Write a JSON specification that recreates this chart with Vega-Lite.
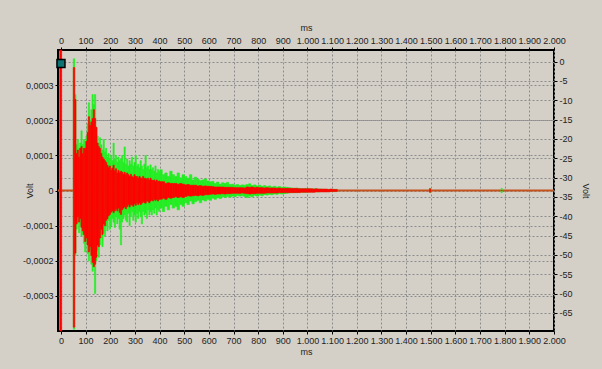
{
  "$schema": "https://vega.github.io/schema/vega-lite/v6.json",
  "width": 496,
  "height": 281,
  "autosize": {"type": "none"},
  "padding": {"left": 58, "top": 50, "right": 48, "bottom": 38},
  "background": "#d4d0c8",
  "config": {
    "view": {"stroke": "#000000", "strokeWidth": 2, "fill": "#d4d0c8"},
    "axis": {
      "labelFont": "Liberation Sans", "labelFontSize": 9, "labelColor": "#222222",
      "titleFont": "Liberation Sans", "titleFontSize": 9, "titleFontWeight": "normal", "titleColor": "#222222",
      "tickColor": "#000000", "tickSize": 3, "labelPadding": 2, "domain": false,
      "gridColor": "#8c8c8c", "gridDash": [2, 2], "gridOpacity": 1, "gridWidth": 1, "labelFlush": false, "labelOverlap": false
    }
  },
  "datasets": {
    "sig": [
      {"t":-5,"t2":3,"gl":0,"gh":0,"rl":-4e-4,"rh":4e-4},
      {"t":50,"t2":56,"gl":-3.95e-4,"gh":3.75e-4,"rl":-3.89e-4,"rh":3.5e-4},
      {"t":56,"t2":61,"gl":-1.85e-4,"gh":2.73e-4,"rl":-1.78e-4,"rh":2.59e-4},
      {"t":61,"t2":66,"gl":-1.1e-4,"gh":1.3e-4,"rl":-0.95e-4,"rh":1.05e-4},
      {"t":66,"t2":71,"gl":-0.9e-4,"gh":1.45e-4,"rl":-0.75e-4,"rh":1.15e-4},
      {"t":71,"t2":76,"gl":-1.2e-4,"gh":1.2e-4,"rl":-0.9e-4,"rh":0.95e-4},
      {"t":76,"t2":81,"gl":-1.0e-4,"gh":1.35e-4,"rl":-0.8e-4,"rh":1.2e-4},
      {"t":81,"t2":86,"gl":-1.3e-4,"gh":1.7e-4,"rl":-1.05e-4,"rh":1.25e-4},
      {"t":86,"t2":91,"gl":-1.25e-4,"gh":1.3e-4,"rl":-1.15e-4,"rh":1.05e-4},
      {"t":91,"t2":96,"gl":-1.5e-4,"gh":1.45e-4,"rl":-1.25e-4,"rh":1.2e-4},
      {"t":96,"t2":101,"gl":-1.75e-4,"gh":1.4e-4,"rl":-1.45e-4,"rh":1.2e-4},
      {"t":101,"t2":106,"gl":-1.45e-4,"gh":1.55e-4,"rl":-1.35e-4,"rh":1.4e-4},
      {"t":106,"t2":111,"gl":-1.8e-4,"gh":1.9e-4,"rl":-1.55e-4,"rh":1.65e-4},
      {"t":111,"t2":116,"gl":-2.0e-4,"gh":2.5e-4,"rl":-1.75e-4,"rh":2.1e-4},
      {"t":116,"t2":121,"gl":-1.7e-4,"gh":2.0e-4,"rl":-1.6e-4,"rh":1.85e-4},
      {"t":121,"t2":126,"gl":-2.1e-4,"gh":2.3e-4,"rl":-1.85e-4,"rh":1.95e-4},
      {"t":126,"t2":131,"gl":-2.3e-4,"gh":2.73e-4,"rl":-2.05e-4,"rh":2.05e-4},
      {"t":131,"t2":136,"gl":-2.1e-4,"gh":2.45e-4,"rl":-2.17e-4,"rh":2.3e-4},
      {"t":136,"t2":141,"gl":-2.93e-4,"gh":2.73e-4,"rl":-2.1e-4,"rh":2.05e-4},
      {"t":141,"t2":146,"gl":-2.0e-4,"gh":1.8e-4,"rl":-1.9e-4,"rh":1.8e-4},
      {"t":146,"t2":151,"gl":-1.7e-4,"gh":1.55e-4,"rl":-1.55e-4,"rh":1.35e-4},
      {"t":151,"t2":156,"gl":-1.9e-4,"gh":1.35e-4,"rl":-1.6e-4,"rh":1.25e-4},
      {"t":156,"t2":161,"gl":-1.55e-4,"gh":1.5e-4,"rl":-1.35e-4,"rh":1.2e-4},
      {"t":161,"t2":166,"gl":-1.35e-4,"gh":1.3e-4,"rl":-1.1e-4,"rh":1.05e-4},
      {"t":166,"t2":171,"gl":-1.6e-4,"gh":1.15e-4,"rl":-1.25e-4,"rh":0.95e-4},
      {"t":171,"t2":176,"gl":-1.2e-4,"gh":1.45e-4,"rl":-0.95e-4,"rh":0.9e-4},
      {"t":176,"t2":181,"gl":-1.3e-4,"gh":1.1e-4,"rl":-1.0e-4,"rh":0.85e-4},
      {"t":181,"t2":186,"gl":-1.0e-4,"gh":1.2e-4,"rl":-0.85e-4,"rh":0.8e-4},
      {"t":186,"t2":191,"gl":-1.15e-4,"gh":0.95e-4,"rl":-0.8e-4,"rh":0.72e-4},
      {"t":191,"t2":196,"gl":-0.85e-4,"gh":1.05e-4,"rl":-0.72e-4,"rh":0.65e-4},
      {"t":196,"t2":201,"gl":-1.1e-4,"gh":0.9e-4,"rl":-0.68e-4,"rh":0.7e-4},
      {"t":201,"t2":206,"gl":-1.0e-4,"gh":1.0e-4,"rl":-0.62e-4,"rh":0.58e-4},
      {"t":206,"t2":211,"gl":-0.8e-4,"gh":0.85e-4,"rl":-0.58e-4,"rh":0.64e-4},
      {"t":211,"t2":216,"gl":-0.9e-4,"gh":1.35e-4,"rl":-0.63e-4,"rh":0.72e-4},
      {"t":216,"t2":221,"gl":-1.05e-4,"gh":0.9e-4,"rl":-0.58e-4,"rh":0.56e-4},
      {"t":221,"t2":226,"gl":-0.75e-4,"gh":1.0e-4,"rl":-0.52e-4,"rh":0.62e-4},
      {"t":226,"t2":231,"gl":-0.95e-4,"gh":0.8e-4,"rl":-0.58e-4,"rh":0.5e-4},
      {"t":231,"t2":236,"gl":-0.8e-4,"gh":0.95e-4,"rl":-0.5e-4,"rh":0.57e-4},
      {"t":236,"t2":241,"gl":-1.1e-4,"gh":0.85e-4,"rl":-0.62e-4,"rh":0.5e-4},
      {"t":241,"t2":246,"gl":-1.55e-4,"gh":0.9e-4,"rl":-0.68e-4,"rh":0.55e-4},
      {"t":246,"t2":251,"gl":-0.9e-4,"gh":1.0e-4,"rl":-0.55e-4,"rh":0.52e-4},
      {"t":251,"t2":256,"gl":-0.8e-4,"gh":0.8e-4,"rl":-0.5e-4,"rh":0.46e-4},
      {"t":256,"t2":261,"gl":-0.7e-4,"gh":1.24e-4,"rl":-0.46e-4,"rh":0.52e-4},
      {"t":261,"t2":266,"gl":-0.85e-4,"gh":0.75e-4,"rl":-0.52e-4,"rh":0.45e-4},
      {"t":266,"t2":271,"gl":-0.9e-4,"gh":0.9e-4,"rl":-0.46e-4,"rh":0.5e-4},
      {"t":271,"t2":276,"gl":-0.65e-4,"gh":0.7e-4,"rl":-0.4e-4,"rh":0.45e-4},
      {"t":276,"t2":281,"gl":-1.0e-4,"gh":0.85e-4,"rl":-0.47e-4,"rh":0.4e-4},
      {"t":281,"t2":286,"gl":-0.75e-4,"gh":0.75e-4,"rl":-0.4e-4,"rh":0.46e-4},
      {"t":286,"t2":291,"gl":-0.6e-4,"gh":0.95e-4,"rl":-0.42e-4,"rh":0.4e-4},
      {"t":291,"t2":296,"gl":-0.85e-4,"gh":0.7e-4,"rl":-0.45e-4,"rh":0.38e-4},
      {"t":296,"t2":301,"gl":-0.7e-4,"gh":0.8e-4,"rl":-0.38e-4,"rh":0.45e-4},
      {"t":301,"t2":306,"gl":-0.9e-4,"gh":1.0e-4,"rl":-0.42e-4,"rh":0.4e-4},
      {"t":306,"t2":311,"gl":-0.65e-4,"gh":0.7e-4,"rl":-0.35e-4,"rh":0.4e-4},
      {"t":311,"t2":316,"gl":-0.8e-4,"gh":0.75e-4,"rl":-0.4e-4,"rh":0.35e-4},
      {"t":316,"t2":321,"gl":-0.6e-4,"gh":0.65e-4,"rl":-0.35e-4,"rh":0.4e-4},
      {"t":321,"t2":326,"gl":-0.75e-4,"gh":0.85e-4,"rl":-0.4e-4,"rh":0.36e-4},
      {"t":326,"t2":331,"gl":-0.95e-4,"gh":0.7e-4,"rl":-0.36e-4,"rh":0.34e-4},
      {"t":331,"t2":336,"gl":-0.6e-4,"gh":0.6e-4,"rl":-0.31e-4,"rh":0.4e-4},
      {"t":336,"t2":341,"gl":-0.7e-4,"gh":0.75e-4,"rl":-0.35e-4,"rh":0.34e-4},
      {"t":341,"t2":346,"gl":-0.65e-4,"gh":1.0e-4,"rl":-0.36e-4,"rh":0.35e-4},
      {"t":346,"t2":351,"gl":-0.8e-4,"gh":0.65e-4,"rl":-0.3e-4,"rh":0.31e-4},
      {"t":351,"t2":356,"gl":-0.55e-4,"gh":0.7e-4,"rl":-0.31e-4,"rh":0.35e-4},
      {"t":356,"t2":361,"gl":-0.7e-4,"gh":0.6e-4,"rl":-0.35e-4,"rh":0.3e-4},
      {"t":361,"t2":366,"gl":-0.6e-4,"gh":0.73e-4,"rl":-0.3e-4,"rh":0.35e-4},
      {"t":366,"t2":371,"gl":-0.7e-4,"gh":0.6e-4,"rl":-0.27e-4,"rh":0.3e-4},
      {"t":371,"t2":376,"gl":-0.55e-4,"gh":0.65e-4,"rl":-0.3e-4,"rh":0.28e-4},
      {"t":376,"t2":381,"gl":-0.65e-4,"gh":0.55e-4,"rl":-0.25e-4,"rh":0.3e-4},
      {"t":381,"t2":386,"gl":-0.5e-4,"gh":0.7e-4,"rl":-0.28e-4,"rh":0.25e-4},
      {"t":386,"t2":391,"gl":-0.7e-4,"gh":0.5e-4,"rl":-0.25e-4,"rh":0.3e-4},
      {"t":391,"t2":396,"gl":-0.55e-4,"gh":0.6e-4,"rl":-0.3e-4,"rh":0.25e-4},
      {"t":396,"t2":401,"gl":-0.6e-4,"gh":0.55e-4,"rl":-0.25e-4,"rh":0.27e-4},
      {"t":401,"t2":411,"gl":-0.5e-4,"gh":0.59e-4,"rl":-0.25e-4,"rh":0.25e-4},
      {"t":411,"t2":421,"gl":-0.6e-4,"gh":0.45e-4,"rl":-0.22e-4,"rh":0.25e-4},
      {"t":421,"t2":431,"gl":-0.45e-4,"gh":0.5e-4,"rl":-0.25e-4,"rh":0.2e-4},
      {"t":431,"t2":441,"gl":-0.55e-4,"gh":0.4e-4,"rl":-0.2e-4,"rh":0.22e-4},
      {"t":441,"t2":451,"gl":-0.4e-4,"gh":0.55e-4,"rl":-0.22e-4,"rh":0.2e-4},
      {"t":451,"t2":461,"gl":-0.5e-4,"gh":0.45e-4,"rl":-0.2e-4,"rh":0.2e-4},
      {"t":461,"t2":471,"gl":-0.45e-4,"gh":0.4e-4,"rl":-0.18e-4,"rh":0.2e-4},
      {"t":471,"t2":481,"gl":-0.55e-4,"gh":0.5e-4,"rl":-0.2e-4,"rh":0.18e-4},
      {"t":481,"t2":491,"gl":-0.4e-4,"gh":0.36e-4,"rl":-0.18e-4,"rh":0.2e-4},
      {"t":491,"t2":501,"gl":-0.45e-4,"gh":0.45e-4,"rl":-0.2e-4,"rh":0.18e-4},
      {"t":501,"t2":511,"gl":-0.35e-4,"gh":0.4e-4,"rl":-0.17e-4,"rh":0.16e-4},
      {"t":511,"t2":521,"gl":-0.4e-4,"gh":0.35e-4,"rl":-0.15e-4,"rh":0.17e-4},
      {"t":521,"t2":531,"gl":-0.3e-4,"gh":0.45e-4,"rl":-0.16e-4,"rh":0.15e-4},
      {"t":531,"t2":541,"gl":-0.38e-4,"gh":0.3e-4,"rl":-0.15e-4,"rh":0.15e-4},
      {"t":541,"t2":551,"gl":-0.32e-4,"gh":0.38e-4,"rl":-0.14e-4,"rh":0.15e-4},
      {"t":551,"t2":561,"gl":-0.28e-4,"gh":0.32e-4,"rl":-0.15e-4,"rh":0.13e-4},
      {"t":561,"t2":571,"gl":-0.35e-4,"gh":0.28e-4,"rl":-0.13e-4,"rh":0.14e-4},
      {"t":571,"t2":581,"gl":-0.27e-4,"gh":0.3e-4,"rl":-0.14e-4,"rh":0.12e-4},
      {"t":581,"t2":591,"gl":-0.3e-4,"gh":0.33e-4,"rl":-0.12e-4,"rh":0.13e-4},
      {"t":591,"t2":601,"gl":-0.25e-4,"gh":0.27e-4,"rl":-0.12e-4,"rh":0.12e-4},
      {"t":601,"t2":611,"gl":-0.28e-4,"gh":0.25e-4,"rl":-0.11e-4,"rh":0.12e-4},
      {"t":611,"t2":621,"gl":-0.22e-4,"gh":0.26e-4,"rl":-0.1e-4,"rh":0.11e-4},
      {"t":621,"t2":631,"gl":-0.25e-4,"gh":0.2e-4,"rl":-0.11e-4,"rh":0.1e-4},
      {"t":631,"t2":641,"gl":-0.2e-4,"gh":0.24e-4,"rl":-0.1e-4,"rh":0.1e-4},
      {"t":641,"t2":651,"gl":-0.23e-4,"gh":0.18e-4,"rl":-0.1e-4,"rh":0.1e-4},
      {"t":651,"t2":661,"gl":-0.18e-4,"gh":0.22e-4,"rl":-0.09e-4,"rh":0.1e-4},
      {"t":661,"t2":671,"gl":-0.2e-4,"gh":0.2e-4,"rl":-0.1e-4,"rh":0.09e-4},
      {"t":671,"t2":681,"gl":-0.17e-4,"gh":0.23e-4,"rl":-0.09e-4,"rh":0.09e-4},
      {"t":681,"t2":691,"gl":-0.19e-4,"gh":0.17e-4,"rl":-0.09e-4,"rh":0.09e-4},
      {"t":691,"t2":701,"gl":-0.16e-4,"gh":0.18e-4,"rl":-0.08e-4,"rh":0.09e-4},
      {"t":701,"t2":711,"gl":-0.18e-4,"gh":0.15e-4,"rl":-0.08e-4,"rh":0.08e-4},
      {"t":711,"t2":721,"gl":-0.14e-4,"gh":0.17e-4,"rl":-0.08e-4,"rh":0.08e-4},
      {"t":721,"t2":731,"gl":-0.16e-4,"gh":0.14e-4,"rl":-0.08e-4,"rh":0.08e-4},
      {"t":731,"t2":741,"gl":-0.15e-4,"gh":0.16e-4,"rl":-0.07e-4,"rh":0.08e-4},
      {"t":741,"t2":751,"gl":-0.17e-4,"gh":0.15e-4,"rl":-0.08e-4,"rh":0.07e-4},
      {"t":751,"t2":761,"gl":-0.2e-4,"gh":0.17e-4,"rl":-0.09e-4,"rh":0.1e-4},
      {"t":761,"t2":771,"gl":-0.16e-4,"gh":0.19e-4,"rl":-0.1e-4,"rh":0.09e-4},
      {"t":771,"t2":781,"gl":-0.18e-4,"gh":0.14e-4,"rl":-0.09e-4,"rh":0.1e-4},
      {"t":781,"t2":791,"gl":-0.14e-4,"gh":0.16e-4,"rl":-0.09e-4,"rh":0.08e-4},
      {"t":791,"t2":801,"gl":-0.16e-4,"gh":0.13e-4,"rl":-0.08e-4,"rh":0.09e-4},
      {"t":801,"t2":811,"gl":-0.13e-4,"gh":0.15e-4,"rl":-0.08e-4,"rh":0.08e-4},
      {"t":811,"t2":821,"gl":-0.15e-4,"gh":0.12e-4,"rl":-0.08e-4,"rh":0.08e-4},
      {"t":821,"t2":831,"gl":-0.12e-4,"gh":0.14e-4,"rl":-0.08e-4,"rh":0.07e-4},
      {"t":831,"t2":841,"gl":-0.13e-4,"gh":0.11e-4,"rl":-0.07e-4,"rh":0.08e-4},
      {"t":841,"t2":851,"gl":-0.11e-4,"gh":0.13e-4,"rl":-0.07e-4,"rh":0.07e-4},
      {"t":851,"t2":861,"gl":-0.12e-4,"gh":0.1e-4,"rl":-0.07e-4,"rh":0.07e-4},
      {"t":861,"t2":871,"gl":-0.1e-4,"gh":0.12e-4,"rl":-0.07e-4,"rh":0.07e-4},
      {"t":871,"t2":881,"gl":-0.11e-4,"gh":0.1e-4,"rl":-0.07e-4,"rh":0.06e-4},
      {"t":881,"t2":891,"gl":-0.09e-4,"gh":0.11e-4,"rl":-0.06e-4,"rh":0.07e-4},
      {"t":891,"t2":901,"gl":-0.1e-4,"gh":0.09e-4,"rl":-0.06e-4,"rh":0.06e-4},
      {"t":901,"t2":911,"gl":-0.09e-4,"gh":0.1e-4,"rl":-0.06e-4,"rh":0.06e-4},
      {"t":911,"t2":921,"gl":-0.08e-4,"gh":0.09e-4,"rl":-0.06e-4,"rh":0.06e-4},
      {"t":921,"t2":931,"gl":-0.07e-4,"gh":0.08e-4,"rl":-0.06e-4,"rh":0.06e-4},
      {"t":931,"t2":941,"gl":-0.06e-4,"gh":0.07e-4,"rl":-0.06e-4,"rh":0.06e-4},
      {"t":941,"t2":951,"gl":-0.06e-4,"gh":0.06e-4,"rl":-0.06e-4,"rh":0.06e-4},
      {"t":951,"t2":961,"gl":-0.06e-4,"gh":0.07e-4,"rl":-0.06e-4,"rh":0.06e-4},
      {"t":961,"t2":971,"gl":-0.05e-4,"gh":0.06e-4,"rl":-0.06e-4,"rh":0.05e-4},
      {"t":971,"t2":981,"gl":-0.05e-4,"gh":0.05e-4,"rl":-0.05e-4,"rh":0.05e-4},
      {"t":981,"t2":991,"gl":-0.05e-4,"gh":0.05e-4,"rl":-0.05e-4,"rh":0.05e-4},
      {"t":991,"t2":1001,"gl":-0.05e-4,"gh":0.06e-4,"rl":-0.05e-4,"rh":0.05e-4},
      {"t":1001,"t2":1011,"gl":-0.04e-4,"gh":0.05e-4,"rl":-0.05e-4,"rh":0.05e-4},
      {"t":1011,"t2":1021,"gl":-0.04e-4,"gh":0.04e-4,"rl":-0.05e-4,"rh":0.05e-4},
      {"t":1021,"t2":1031,"gl":-0.04e-4,"gh":0.05e-4,"rl":-0.05e-4,"rh":0.04e-4},
      {"t":1031,"t2":1041,"gl":-0.04e-4,"gh":0.04e-4,"rl":-0.04e-4,"rh":0.05e-4},
      {"t":1041,"t2":1051,"gl":-0.04e-4,"gh":0.04e-4,"rl":-0.04e-4,"rh":0.04e-4},
      {"t":1051,"t2":1061,"gl":-0.03e-4,"gh":0.04e-4,"rl":-0.04e-4,"rh":0.04e-4},
      {"t":1061,"t2":1071,"gl":-0.03e-4,"gh":0.03e-4,"rl":-0.04e-4,"rh":0.04e-4},
      {"t":1071,"t2":1081,"gl":-0.03e-4,"gh":0.03e-4,"rl":-0.04e-4,"rh":0.04e-4},
      {"t":1081,"t2":1091,"gl":-0.03e-4,"gh":0.03e-4,"rl":-0.04e-4,"rh":0.03e-4},
      {"t":1091,"t2":1101,"gl":-0.03e-4,"gh":0.03e-4,"rl":-0.03e-4,"rh":0.04e-4},
      {"t":1101,"t2":1121,"gl":-0.03e-4,"gh":0.03e-4,"rl":-0.03e-4,"rh":0.03e-4},
      {"t":1495,"t2":1500,"gl":-0.06e-4,"gh":0.06e-4,"rl":-0.05e-4,"rh":0.05e-4},
      {"t":1785,"t2":1790,"gl":-0.06e-4,"gh":0.06e-4,"rl":0,"rh":0}
    ]
  },
  "layer": [
    {
      "layer": [
        {
          "data": {"values": [{}]},
          "mark": {"type": "rule", "color": "#c4521c", "strokeWidth": 2},
          "encoding": {
            "y": {"datum": 0, "type": "quantitative",
              "scale": {"domain": [-0.0004, 0.0004], "nice": false, "zero": false},
              "axis": {"orient": "left", "title": "Volt", "values": [-0.0003, -0.0002, -0.0001, 0, 0.0001, 0.0002, 0.0003],
                "labelExpr": "datum.value == 0 ? '0' : (datum.value < 0 ? '-' : '') + '0,000' + round(abs(datum.value) * 10000)",
                "grid": true, "titleAngle": -90, "titleX": -29, "titleY": 140.5, "titleAlign": "center", "titleBaseline": "middle"}}
          }
        },
        {
          "data": {"name": "sig"},
          "mark": {"type": "bar", "color": "#22ee22", "stroke": "#22ee22", "strokeWidth": 0.6},
          "encoding": {
            "x": {"field": "t", "type": "quantitative",
              "scale": {"domain": [-12, 2000], "nice": false, "zero": false},
              "axis": {"orient": "bottom", "title": "ms", "values": [0,100,200,300,400,500,600,700,800,900,1000,1100,1200,1300,1400,1500,1600,1700,1800,1900,2000],
                "labelExpr": "datum.value < 1000 ? '' + datum.value : floor(datum.value / 1000) + '.' + (datum.value % 1000 == 0 ? '000' : '' + (datum.value % 1000))",
                "grid": true, "titlePadding": 2}},
            "x2": {"field": "t2"},
            "y": {"field": "gl", "type": "quantitative",
              "scale": {"domain": [-0.0004, 0.0004], "nice": false, "zero": false},
              "axis": {"orient": "left", "title": "Volt", "values": [-0.0003, -0.0002, -0.0001, 0, 0.0001, 0.0002, 0.0003],
                "labelExpr": "datum.value == 0 ? '0' : (datum.value < 0 ? '-' : '') + '0,000' + round(abs(datum.value) * 10000)",
                "grid": true, "titleAngle": -90, "titleX": -29, "titleY": 140.5, "titleAlign": "center", "titleBaseline": "middle"}},
            "y2": {"field": "gh"}
          }
        },
        {
          "data": {"name": "sig"},
          "mark": {"type": "bar", "color": "#ff0000", "stroke": "#ff0000", "strokeWidth": 0.6},
          "encoding": {
            "x": {"field": "t", "type": "quantitative",
              "scale": {"domain": [-12, 2000], "nice": false, "zero": false},
              "axis": {"orient": "bottom", "title": "ms", "values": [0,100,200,300,400,500,600,700,800,900,1000,1100,1200,1300,1400,1500,1600,1700,1800,1900,2000],
                "labelExpr": "datum.value < 1000 ? '' + datum.value : floor(datum.value / 1000) + '.' + (datum.value % 1000 == 0 ? '000' : '' + (datum.value % 1000))",
                "grid": true, "titlePadding": 2}},
            "x2": {"field": "t2"},
            "y": {"field": "rl", "type": "quantitative",
              "scale": {"domain": [-0.0004, 0.0004], "nice": false, "zero": false},
              "axis": {"orient": "left", "title": "Volt", "values": [-0.0003, -0.0002, -0.0001, 0, 0.0001, 0.0002, 0.0003],
                "labelExpr": "datum.value == 0 ? '0' : (datum.value < 0 ? '-' : '') + '0,000' + round(abs(datum.value) * 10000)",
                "grid": true, "titleAngle": -90, "titleX": -29, "titleY": 140.5, "titleAlign": "center", "titleBaseline": "middle"}},
            "y2": {"field": "rh"}
          }
        }
      ]
    },
    {
      "data": {"values": [{}]},
      "mark": {"type": "square", "size": 64, "fill": "#0e7272", "stroke": "#000000", "strokeWidth": 1.5, "opacity": 1},
      "encoding": {
        "x": {"datum": 0, "type": "quantitative",
          "scale": {"domain": [-12, 2000], "nice": false, "zero": false},
          "axis": {"orient": "top", "title": "ms", "values": [0,100,200,300,400,500,600,700,800,900,1000,1100,1200,1300,1400,1500,1600,1700,1800,1900,2000],
            "labelExpr": "datum.value < 1000 ? '' + datum.value : floor(datum.value / 1000) + '.' + (datum.value % 1000 == 0 ? '000' : '' + (datum.value % 1000))",
            "grid": false, "titlePadding": 4}},
        "y": {"datum": -0.5, "type": "quantitative",
          "scale": {"domain": [-69.7, 3], "nice": false, "zero": false},
          "axis": {"orient": "right", "title": "Volt", "values": [-65,-60,-55,-50,-45,-40,-35,-30,-25,-20,-15,-10,-5,0],
            "labelExpr": "'' + datum.value", "grid": true,
            "titleAngle": 90, "titleX": 31, "titleY": 140.5, "titleAlign": "center", "titleBaseline": "middle"}}
      }
    }
  ],
  "resolve": {"scale": {"y": "independent"}, "axis": {"x": "independent", "y": "independent"}}
}
